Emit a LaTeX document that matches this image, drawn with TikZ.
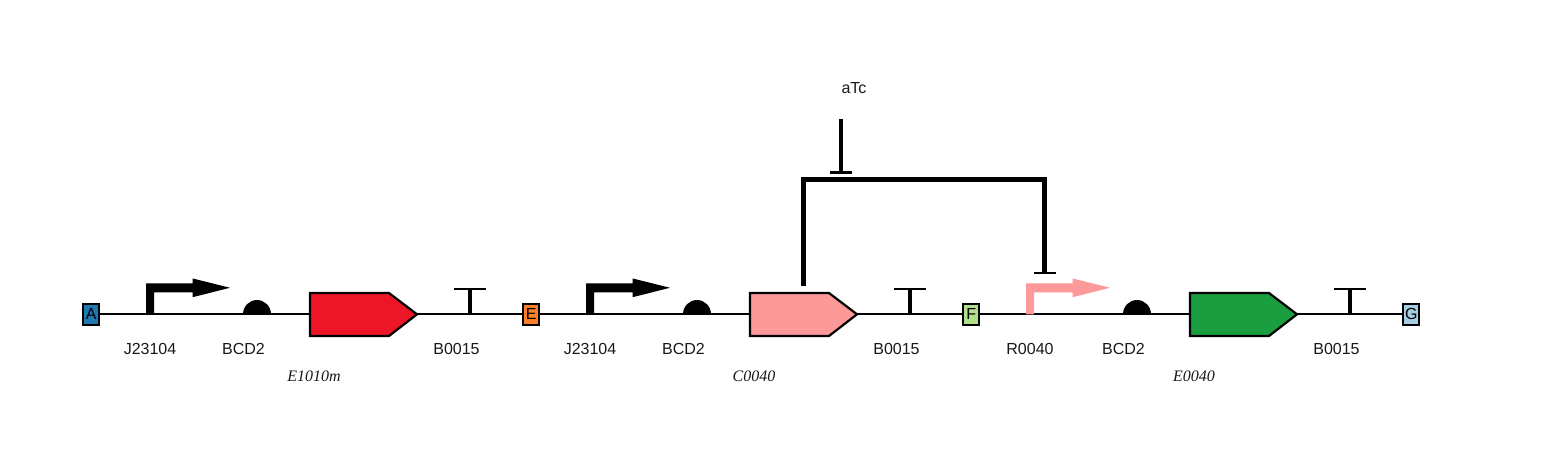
\documentclass[tikz,border=0pt]{standalone}
\usepackage{fontspec}
\setmainfont{Liberation Sans}
\newfontfamily\genefont[Ligatures=TeX]{Liberation Serif}
\definecolor{cdsred}{HTML}{ED1626}
\definecolor{cdspink}{HTML}{FE9999}
\definecolor{cdsgreen}{HTML}{1A9E40}
\definecolor{ablue}{HTML}{1F78B4}
\definecolor{eorange}{HTML}{FA7F2A}
\definecolor{fgreen}{HTML}{B2DF8A}
\definecolor{gblue}{HTML}{A6CEE3}
\tikzset{
  x=1pt,y=-1pt,
  scar/.style={draw=black,line width=2pt,minimum width=16pt,minimum height=21pt,inner sep=0pt,font=\fontsize{16}{17}\selectfont},
  lab/.style={inner sep=0pt,font=\fontsize{16}{17}\selectfont,text=black!90},
  gene/.style={inner sep=0pt,font=\fontsize{16}{17}\selectfont\genefont\itshape,text=black!90},
  backbone/.style={line width=2pt,draw=black},
  cdsbody/.style={draw=black,line width=2.2pt,line join=miter},
  regline/.style={line width=4.4pt,draw=black,line join=miter},
  thin bar/.style={line width=2.2pt,draw=black},
}
\newcommand{\promoter}[2]{% x, colour
  \fill[#2] (#1-4,314.3) -- (#1-4,283.4) -- (#1+42.5,283.4) -- (#1+42.5,278.4) -- (#1+80,287.8) -- (#1+42.5,297.2) -- (#1+42.5,292.3) -- (#1+4,292.3) -- (#1+4,314.3) -- cycle;
}
\newcommand{\rbs}[1]{\fill[black] (#1-14,314.3) arc[start angle=180,end angle=360,x radius=14,y radius=14.3] -- cycle;}
\newcommand{\cds}[2]{\draw[cdsbody,fill=#2] (#1,293) -- (#1+79,293) -- (#1+107,314.3) -- (#1+79,336) -- (#1,336) -- cycle;}
\newcommand{\term}[1]{%
  \draw[line width=4pt] (#1,314.3) -- (#1,289);
  \draw[thin bar] (#1-16,289) -- (#1+16,289);}
\begin{document}
\begin{tikzpicture}
\useasboundingbox (0,0) rectangle (1548,465);
\fill[white] (0,0) rectangle (1548,465);
\node[scar,fill=ablue]   (A) at (91.3,314.2) {A};
\node[scar,fill=eorange] (E) at (531.3,314.2) {E};
\node[scar,fill=fgreen]  (F) at (971.3,314.2) {F};
\node[scar,fill=gblue]   (G) at (1411.3,314.2) {G};
\draw[backbone] (A.east) -- (E.west);
\draw[backbone] (E.east) -- (F.west);
\draw[backbone] (F.east) -- (G.west);
\promoter{150}{black}
\rbs{257}
\cds{310}{cdsred}
\term{470}
\promoter{590}{black}
\rbs{697}
\cds{750}{cdspink}
\term{910}
\promoter{1030}{cdspink}
\rbs{1137}
\cds{1190}{cdsgreen}
\term{1350}
% regulation
\coordinate (cdsout) at (803.5,286);
\coordinate (prin) at (1044.5,273);
\coordinate (atcfrom) at (840.5,119.5);
\coordinate (atcto) at (840.5,172);
\draw[regline] (cdsout) -- (803.5,179.5) -- (1044.5,179.5) -- (prin);
\draw[thin bar] (1033.5,273) -- (1055.5,273);
\draw[line width=4pt] (atcfrom) -- (atcto);
\draw[thin bar] (830,172.5) -- (851.5,172.5);
% labels
\node[lab] (l1) at (150,349) {J23104};
\node[lab] (l2) at (243.5,349) {BCD2};
\node[lab] (l3) at (456.5,349) {B0015};
\node[lab] (l4) at (590,349) {J23104};
\node[lab] (l5) at (683.5,349) {BCD2};
\node[lab] (l6) at (896.5,349) {B0015};
\node[lab] (l7) at (1030,349) {R0040};
\node[lab] (l8) at (1123.5,349) {BCD2};
\node[lab] (l9) at (1336.5,349) {B0015};
\node[lab] (atc) at (854,88) {aTc};
\node[gene] (g1) at (314,376) {E1010m};
\node[gene] (g2) at (754,376) {C0040};
\node[gene] (g3) at (1194,376) {E0040};
\end{tikzpicture}
\end{document}
